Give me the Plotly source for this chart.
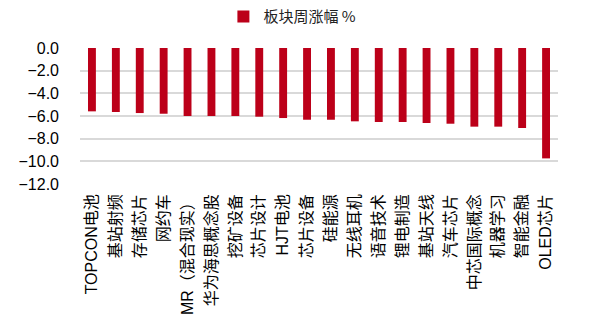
import plotly.graph_objects as go

categories = ["TOPCON电池", "基站射频", "存储芯片", "网约车", "MR（混合现实）", "华为海思概念股",
              "挖矿设备", "芯片设计", "HJT电池", "芯片设备", "硅能源", "无线耳机", "语音技术",
              "锂电制造", "基站天线", "汽车芯片", "中芯国际概念", "机器学习", "智能金融", "OLED芯片"]
values = [-5.59, -5.65, -5.74, -5.80, -6.00, -6.00, -6.00, -6.06, -6.18, -6.33, -6.33,
          -6.47, -6.53, -6.53, -6.62, -6.68, -6.94, -6.94, -7.06, -9.74]
series_name = "板块周涨幅 %"
y_ticks = [0, -2, -4, -6, -8, -10, -12]

fig = go.Figure()
fig.add_trace(go.Bar(x=categories, y=values, name=series_name, marker_color="#BC0019",
                     marker_line_width=0))

fig.update_layout(
    width=589, height=324,
    margin=dict(l=80, r=31, t=48, b=140, autoexpand=False),
    paper_bgcolor="white", plot_bgcolor="white",
    bargap=0.67,
    showlegend=True,
    legend=dict(orientation="h", x=0.30, xanchor="left", y=1.23, yanchor="middle",
                font=dict(family="Noto Sans CJK SC, Arial", size=15, color="#222"),
                itemwidth=30),
    font=dict(family="Arial, Liberation Sans, Noto Sans CJK SC", color="black"),
)
fig.update_xaxes(tickangle=-90, tickfont=dict(size=16, family="Arial, Noto Sans CJK SC", color="black"),
                 showgrid=False, showline=False, ticks="", ticklabelstandoff=6)
fig.update_yaxes(range=[-12, 0], tickvals=y_ticks, tickformat=".1f",
                 tickfont=dict(size=16, family="Arial, Liberation Sans", color="black"),
                 showgrid=True, gridcolor="#D9D9D9", gridwidth=1.5, zeroline=False,
                 showline=False, ticks="", ticklabelstandoff=20)
fig.write_html("out.html")
